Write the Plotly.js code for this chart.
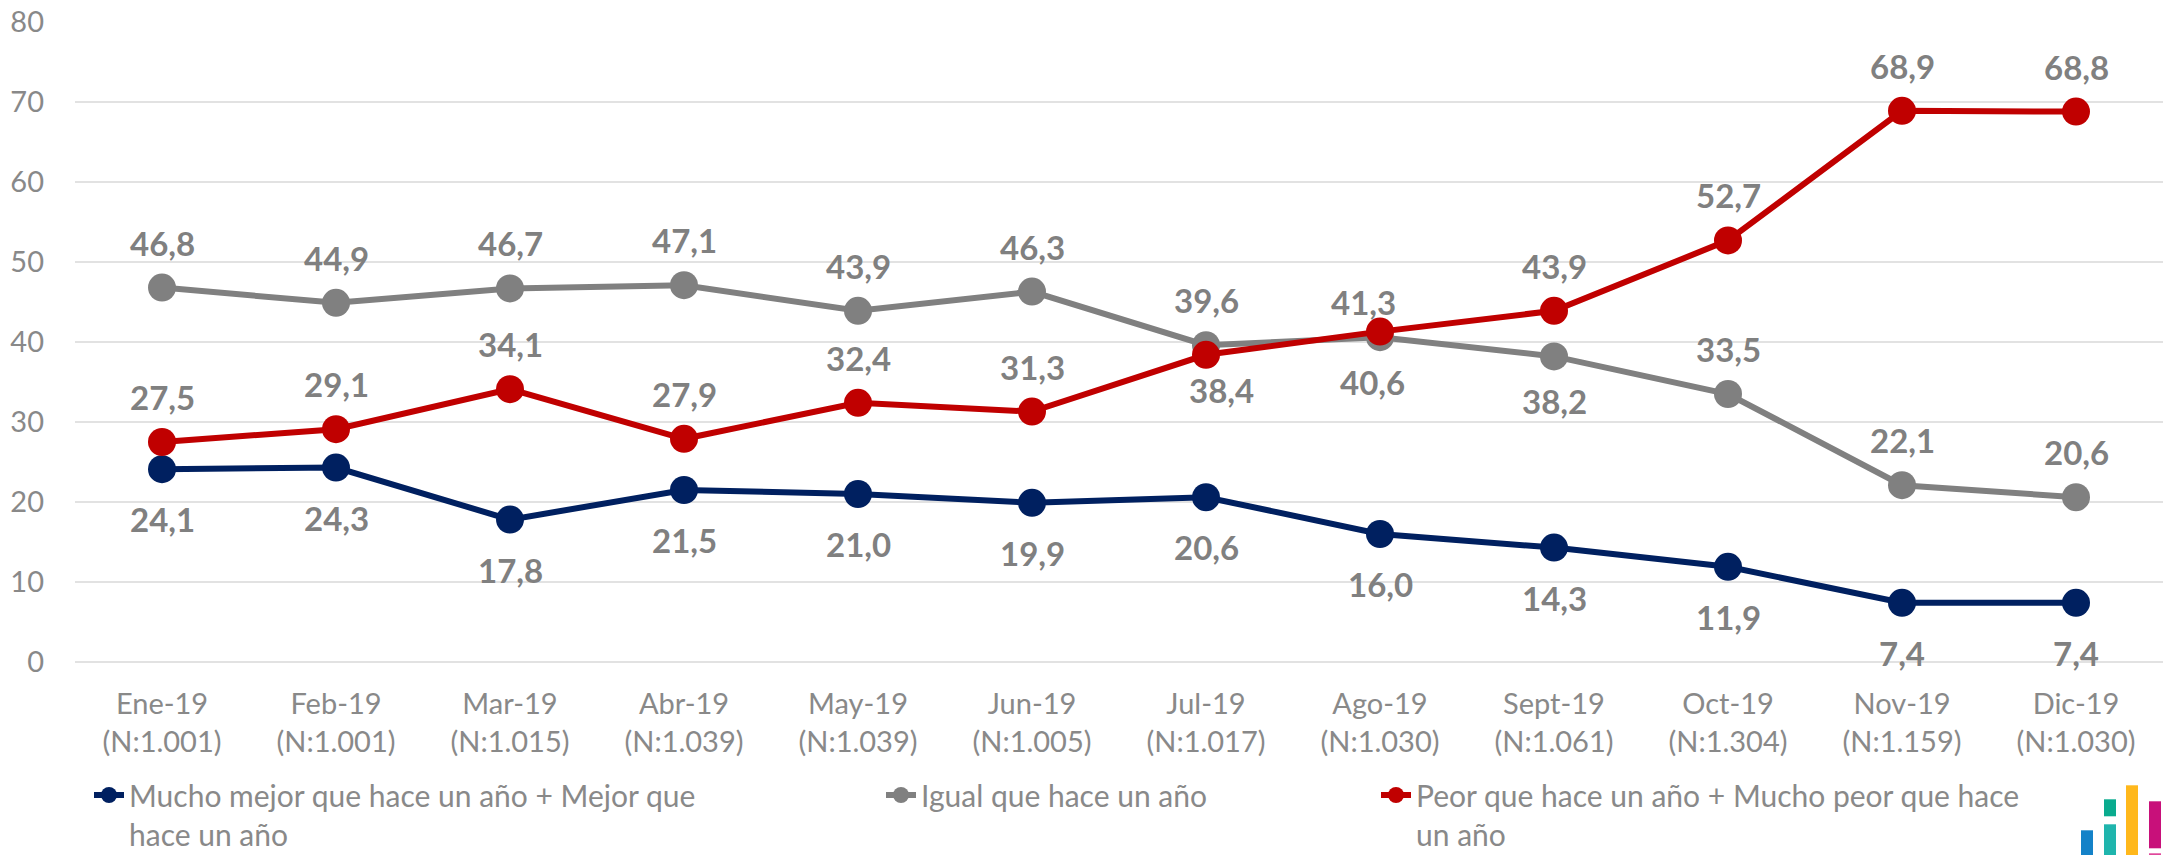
<!DOCTYPE html>
<html>
<head>
<meta charset="utf-8">
<script src="https://cdn.plot.ly/plotly-3.0.1.min.js"></script>
<style>html,body{margin:0;padding:0;background:#fff;}#chart{width:2170px;height:855px;}</style>
</head>
<body>
<div id="chart"></div>
<script>
// ---- data ----
const months = ["Ene-19","Feb-19","Mar-19","Abr-19","May-19","Jun-19","Jul-19","Ago-19","Sept-19","Oct-19","Nov-19","Dic-19"];
const sampleN = ["1.001","1.001","1.015","1.039","1.039","1.005","1.017","1.030","1.061","1.304","1.159","1.030"];
const mejor = [24.1,24.3,17.8,21.5,21.0,19.9,20.6,16.0,14.3,11.9,7.4,7.4];
const igual = [46.8,44.9,46.7,47.1,43.9,46.3,39.6,40.6,38.2,33.5,22.1,20.6];
const peor  = [27.5,29.1,34.1,27.9,32.4,31.3,38.4,41.3,43.9,52.7,68.9,68.8];
const seriesNames = [
  "Mucho mejor que hace un año + Mejor que<br>hace un año",
  "Igual que hace un año",
  "Peor que hace un año + Mucho peor que hace<br>un año"
];

// ---- styles ----
const colors = ["#002060","#808080","#C00000"];
const FONT = "Lato, 'Open Sans', sans-serif";
const tickColor = "#898989";
const labelColor = "#808080";
// label placement: 'a' above, 'b' below
const labelPos = [
  ["b","b","b","b","b","b","b","b","b","b","b","b"],
  ["a","a","a","a","a","a","a","b","b","a","a","a"],
  ["a","a","a","a","a","a","b","a","a","a","a","a"]
];
const labelAdjust = { "2-6": {dy:-35, dx:15}, "2-7": {dy:30, dx:-17}, "1-7": {dx:-8} };

const cats = months.map((m,i)=> m + "<br>(N:" + sampleN[i] + ")");
const allSeries = [mejor, igual, peor];
const legendIds = ["legend","legend2","legend3"];

const traces = allSeries.map((vals, s) => ({
  type: "scatter", mode: "lines+markers",
  x: cats, y: vals, name: seriesNames[s],
  line: {color: colors[s], width: 6},
  marker: {color: colors[s], size: 28},
  legend: legendIds[s],
  hoverinfo: "skip"
}));

const annotations = [];
allSeries.forEach((vals, s) => {
  vals.forEach((v, i) => {
    const above = labelPos[s][i] === "a";
    let dy = above ? 45 : (s === 0 ? -50 : -45);
    let dx = 0;
    const adj = labelAdjust[s + "-" + i];
    if (adj) { if (adj.dy !== undefined) dy = adj.dy; if (adj.dx !== undefined) dx = adj.dx; }
    annotations.push({
      x: cats[i], y: v, xref: "x", yref: "y",
      text: v.toFixed(1).replace(".", ","),
      showarrow: false, yshift: dy, xshift: dx,
      font: {family: FONT, size: 33, color: labelColor, weight: "bold"}
    });
  });
});

// logo (decorative), in pixel coords converted to paper
const L = 75, R = 2163, T = 21.7, B = 661.7;
const px = v => (v - L) / (R - L);
const py = v => (B - v) / (B - T);
const logoBars = [
  {x0:2081,x1:2093,y0:830,y1:860,c:"#1482c8"},
  {x0:2104,x1:2116,y0:799,y1:816,c:"#0aab8e"},
  {x0:2104,x1:2116,y0:824,y1:860,c:"#1fb5ad"},
  {x0:2126,x1:2138,y0:785,y1:860,c:"#ffb81c"},
  {x0:2149,x1:2161,y0:801,y1:848,c:"#c8107a"},
  {x0:2149,x1:2161,y0:853,y1:860,c:"#e0479b"}
];
const shapes = logoBars.map(b => ({
  type: "rect", xref: "paper", yref: "paper",
  x0: px(b.x0), x1: px(b.x1), y0: py(b.y1), y1: py(b.y0),
  fillcolor: b.c, line: {width: 0}, layer: "above"
}));

const legendBase = {
  orientation: "v", xanchor: "left", yanchor: "top",
  xref: "container", yref: "container", y: 1 - 769/855,
  bgcolor: "rgba(0,0,0,0)", valign: "top",
  font: {family: FONT, size: 30, color: tickColor},
  itemclick: false, itemdoubleclick: false
};

const layout = {
  width: 2170, height: 855,
  margin: {l: 75, r: 7, t: 22, b: 193, autoexpand: false},
  paper_bgcolor: "#fff", plot_bgcolor: "#fff",
  showlegend: true,
  font: {family: FONT, color: tickColor},
  xaxis: {
    type: "category", range: [-0.5, 11.5],
    showgrid: false, zeroline: false, showline: false, ticks: "",
    tickfont: {family: FONT, size: 29, color: tickColor},
    ticklabelstandoff: 22, fixedrange: true
  },
  yaxis: {
    range: [0, 80], dtick: 10, showgrid: true, gridcolor: "#e2e2e2", gridwidth: 2,
    zeroline: true, zerolinecolor: "#e2e2e2", zerolinewidth: 2,
    showline: false, ticks: "",
    tickfont: {family: FONT, size: 29, color: tickColor},
    ticklabelstandoff: 30, fixedrange: true
  },
  legend:  Object.assign({}, legendBase, {x: 89 / 2170}),
  legend2: Object.assign({}, legendBase, {x: 881 / 2170}),
  legend3: Object.assign({}, legendBase, {x: 1376 / 2170}),
  annotations: annotations,
  shapes: shapes
};

Plotly.newPlot("chart", traces, layout, {displayModeBar: false, staticPlot: true});
</script>
</body>
</html>
